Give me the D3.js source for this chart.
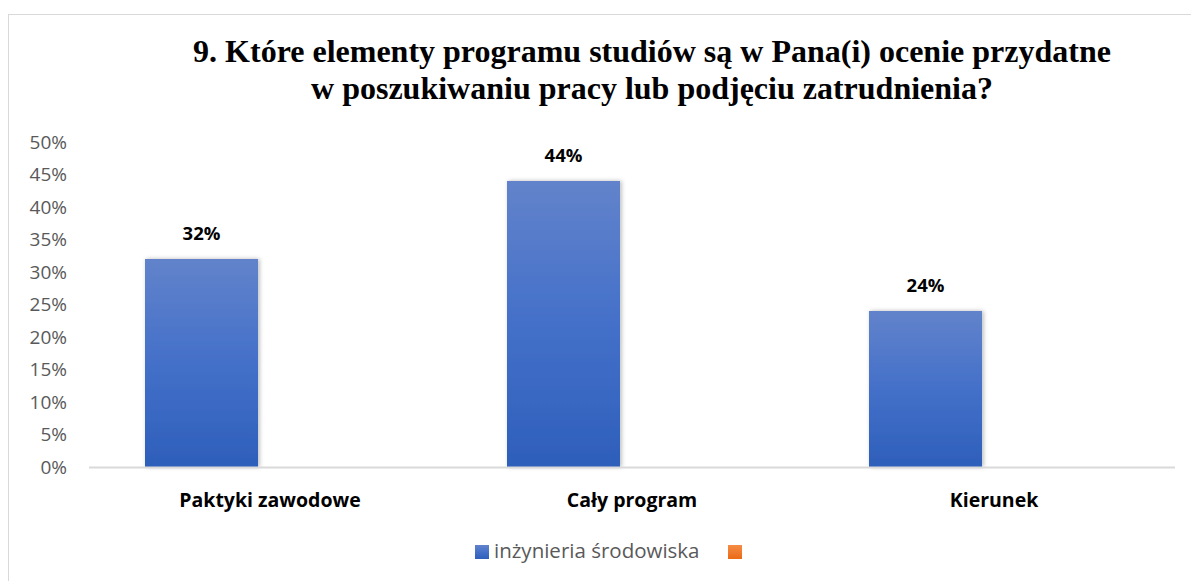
<!DOCTYPE html>
<html>
<head>
<meta charset="utf-8">
<script src="https://cdn.jsdelivr.net/npm/d3@7"></script>
<style>
  body { margin: 0; background: #fff; }
  svg { display: block; }
</style>
</head>
<body>
<svg id="chart" width="1191" height="581"></svg>
<script>
const titleLines = [
  "9. Które elementy programu studiów są w Pana(i) ocenie przydatne",
  "w poszukiwaniu pracy lub podjęciu zatrudnienia?"
];
const categories = ["Paktyki zawodowe", "Cały program", "Kierunek"];
const seriesNames = ["inżynieria środowiska", ""];
const seriesA = [0.32, 0.44, 0.24];
const yTicks = [0, 0.05, 0.10, 0.15, 0.20, 0.25, 0.30, 0.35, 0.40, 0.45, 0.50];

(function () {
const svg = d3.select("#chart");

const defs = svg.append("defs");
const grad = defs.append("linearGradient").attr("id", "barGrad")
  .attr("x1", 0).attr("y1", 0).attr("x2", 0).attr("y2", 1);
grad.append("stop").attr("offset", "0%").attr("stop-color", "#6283cb");
grad.append("stop").attr("offset", "50%").attr("stop-color", "#4470c9");
grad.append("stop").attr("offset", "100%").attr("stop-color", "#2d5fba");
const gradO = defs.append("linearGradient").attr("id", "orangeGrad")
  .attr("x1", 0).attr("y1", 0).attr("x2", 0).attr("y2", 1);
gradO.append("stop").attr("offset", "0%").attr("stop-color", "#f58c45");
gradO.append("stop").attr("offset", "100%").attr("stop-color", "#ea6b16");
const f = defs.append("filter").attr("id", "shadow")
  .attr("x", "-20%").attr("y", "-10%").attr("width", "140%").attr("height", "120%");
f.append("feDropShadow").attr("dx", 1.5).attr("dy", 0).attr("stdDeviation", 2)
  .attr("flood-color", "#000").attr("flood-opacity", 0.28);

// chart border (only top/left visible)
svg.append("rect").attr("x", 8.5).attr("y", 14.5).attr("width", 1300).attr("height", 700)
  .attr("fill", "none").attr("stroke", "#d9d9d9").attr("stroke-width", 1);

// Title
svg.append("text")
  .attr("x", 652).attr("y", 62)
  .attr("text-anchor", "middle")
  .attr("font-family", "'Liberation Serif', 'Times New Roman', serif")
  .attr("font-weight", "bold").attr("font-size", 32).attr("fill", "#000")
  .selectAll("tspan").data(titleLines).join("tspan")
  .attr("x", 652).attr("dy", (d, i) => i === 0 ? 0 : 37)
  .text(d => d);

const pLeft = 89, pRight = 1175, pTop = 142, pBottom = 467;
const x0 = d3.scaleBand().domain(categories).range([pLeft, pRight]);
const x1 = d3.scaleBand().domain(seriesNames).range([-125, 125]).paddingInner(0.175);
const y = d3.scaleLinear().domain([0, 0.5]).range([pBottom, pTop]);

// Y axis labels
const yAxis = d3.axisLeft(y).tickValues(yTicks).tickFormat(d3.format(".0%")).tickSize(0).tickPadding(0);
const yg = svg.append("g").attr("transform", "translate(67,0)").call(yAxis);
yg.select(".domain").remove();
yg.selectAll("text")
  .attr("font-family", "'Open Sans', sans-serif").attr("font-size", 19)
  .attr("fill", "#595959");

// Bars
const barG = svg.append("g");
barG.selectAll("rect").data(seriesA).join("rect")
  .attr("x", (d, i) => x0(categories[i]) + x0.bandwidth() / 2 + x1(seriesNames[0]))
  .attr("y", d => y(d))
  .attr("width", x1.bandwidth())
  .attr("height", d => pBottom - y(d))
  .attr("fill", "url(#barGrad)")
  .attr("filter", "url(#shadow)");

// Baseline
svg.append("line").attr("x1", pLeft).attr("x2", pRight).attr("y1", pBottom + 0.5).attr("y2", pBottom + 0.5)
  .attr("stroke", "#d9d9d9").attr("stroke-width", 2);

// Data labels
svg.append("g").selectAll("text").data(seriesA).join("text")
  .attr("x", (d, i) => x0(categories[i]) + x0.bandwidth() / 2 + x1(seriesNames[0]) + x1.bandwidth() / 2)
  .attr("y", d => y(d) - 19)
  .attr("text-anchor", "middle")
  .attr("font-family", "'Open Sans', sans-serif").attr("font-weight", "bold")
  .attr("font-size", 18.5).attr("fill", "#000")
  .text(d3.format(".0%"));

// X axis labels
const xAxis = d3.axisBottom(x0).tickSize(0).tickPadding(0);
const xg = svg.append("g").attr("transform", `translate(0,${pBottom + 40})`).call(xAxis);
xg.select(".domain").remove();
xg.selectAll("text")
  .attr("dy", 0)
  .attr("font-family", "'Open Sans', sans-serif").attr("font-weight", "bold")
  .attr("font-size", 19.5).attr("fill", "#000");

// Legend
const lg = svg.append("g");
lg.append("rect").attr("x", 475).attr("y", 545).attr("width", 14).attr("height", 14).attr("fill", "url(#barGrad)");
lg.append("text").attr("x", 494).attr("y", 558)
  .attr("font-family", "'Open Sans', sans-serif").attr("font-size", 20.5).attr("fill", "#595959")
  .text(seriesNames[0]);
lg.append("rect").attr("x", 728).attr("y", 545).attr("width", 14).attr("height", 14).attr("fill", "url(#orangeGrad)");
})();
</script>
</body>
</html>
